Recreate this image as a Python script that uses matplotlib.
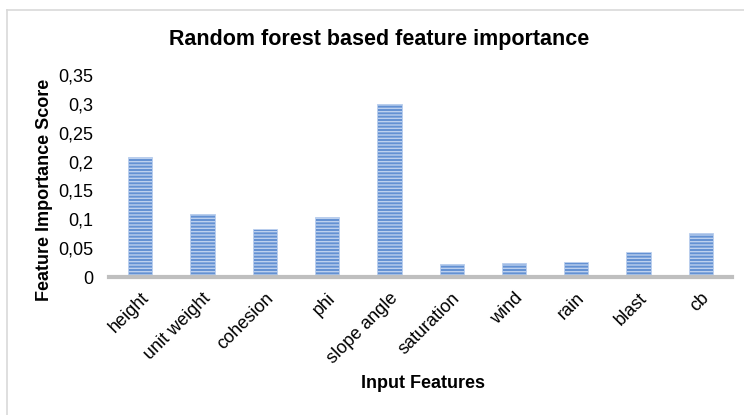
import matplotlib
matplotlib.use("Agg")
import matplotlib.pyplot as plt
from matplotlib.lines import Line2D
from matplotlib.ticker import FuncFormatter

features = ["height", "unit weight", "cohesion", "phi", "slope angle",
            "saturation", "wind", "rain", "blast", "cb"]
scores = [0.208, 0.109, 0.083, 0.104, 0.300, 0.0225, 0.024, 0.026, 0.043, 0.076]
yticks = [0, 0.05, 0.1, 0.15, 0.2, 0.25, 0.3, 0.35]

plt.rcParams['font.family'] = ['Liberation Sans', 'DejaVu Sans']
plt.rcParams['hatch.linewidth'] = 1.0

fig = plt.figure(figsize=(7.44, 4.15), dpi=100)
ax = fig.add_axes([0.1465, 0.3325, 0.8375, 0.4865])

# chart area border (top and left visible)
fig.add_artist(Line2D([7/744, 1], [1 - 10/415, 1 - 10/415], color="#d9d9d9", lw=1.2))
fig.add_artist(Line2D([7/744, 7/744], [0, 1 - 10/415], color="#d9d9d9", lw=1.2))

x = range(len(features))
bars = ax.bar(x, scores, width=0.39, color="#6391d3", edgecolor="#bcd0ee",
              hatch="-----", linewidth=0.6, zorder=2)

ax.set_xlim(-0.5, len(features) - 0.5)
ax.set_ylim(0, 0.35)
ax.set_yticks(yticks)
ax.yaxis.set_major_formatter(FuncFormatter(lambda v, p: ("%g" % round(v, 2)).replace(".", ",")))
ax.set_xticks(list(x))
ax.set_xticklabels(features, rotation=45, ha="right", rotation_mode="anchor")
ax.tick_params(axis="both", length=0, labelsize=13)
ax.tick_params(axis="x", pad=9)
ax.tick_params(axis="y", pad=11)

for s in ["top", "right", "left"]:
    ax.spines[s].set_visible(False)
ax.spines["bottom"].set_color("#bfbfbf")
ax.spines["bottom"].set_linewidth(3)
ax.spines["bottom"].set_zorder(3)

fig.text(0.509, 1 - 40/415, "Random forest based feature importance",
         ha="center", va="center", fontsize=15.5, fontweight="bold")
fig.text(0.568, 1 - 383/415, "Input Features", ha="center", va="center",
         fontsize=13, fontweight="bold")
fig.text(45/744, 1 - 190/415, "Feature Importance Score", ha="center", va="center",
         rotation=90, fontsize=13, fontweight="bold")

fig.savefig("out.png", dpi=100)
